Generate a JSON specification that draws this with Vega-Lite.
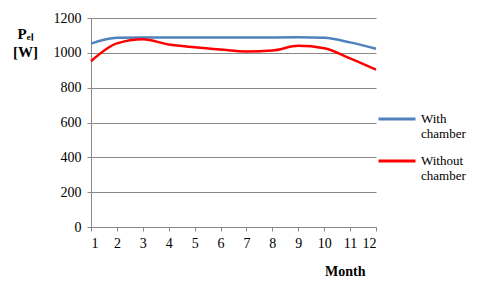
{
  "$schema": "https://vega.github.io/schema/vega-lite/v6.json",
  "width": 285,
  "height": 209,
  "autosize": {"type": "none"},
  "padding": {"left": 91, "top": 18, "right": 104, "bottom": 61},
  "background": "white",
  "config": {
    "view": {"stroke": null},
    "font": "Liberation Serif",
    "axis": {"gridColor": "#888888", "gridWidth": 1, "domainColor": "#888888", "tickColor": "#888888", "labelColor": "#000000", "titleColor": "#000000"},
    "legend": {"labelFont": "Liberation Serif"}
  },
  "data": {"values": [
    {"month": 1, "power": 1053, "series": "With chamber"},
    {"month": 2, "power": 1086, "series": "With chamber"},
    {"month": 3, "power": 1088, "series": "With chamber"},
    {"month": 4, "power": 1088, "series": "With chamber"},
    {"month": 5, "power": 1088, "series": "With chamber"},
    {"month": 6, "power": 1088, "series": "With chamber"},
    {"month": 7, "power": 1088, "series": "With chamber"},
    {"month": 8, "power": 1088, "series": "With chamber"},
    {"month": 9, "power": 1089, "series": "With chamber"},
    {"month": 10, "power": 1086, "series": "With chamber"},
    {"month": 11, "power": 1060, "series": "With chamber"},
    {"month": 12, "power": 1023, "series": "With chamber"},
    {"month": 1, "power": 952, "series": "Without chamber"},
    {"month": 2, "power": 1054, "series": "Without chamber"},
    {"month": 3, "power": 1078, "series": "Without chamber"},
    {"month": 4, "power": 1048, "series": "Without chamber"},
    {"month": 5, "power": 1032, "series": "Without chamber"},
    {"month": 6, "power": 1019, "series": "Without chamber"},
    {"month": 7, "power": 1008, "series": "Without chamber"},
    {"month": 8, "power": 1013, "series": "Without chamber"},
    {"month": 9, "power": 1040, "series": "Without chamber"},
    {"month": 10, "power": 1026, "series": "Without chamber"},
    {"month": 11, "power": 968, "series": "Without chamber"},
    {"month": 12, "power": 903, "series": "Without chamber"}
  ]},
  "mark": {"type": "line", "interpolate": "monotone", "strokeWidth": 2.5},
  "encoding": {
    "x": {"field": "month", "type": "quantitative", "scale": {"domain": [1, 12], "nice": false},
      "axis": {"values": [1,2,3,4,5,6,7,8,9,10,11,12], "grid": false, "tickSize": 4, "labelPadding": 5, "labelFont": "Liberation Serif", "labelFontSize": 14, "title": "Month", "titleFont": "Liberation Serif", "titleFontSize": 14, "titleFontWeight": "bold", "titleX": 274, "titleY": 44, "titleAlign": "right", "titleBaseline": "middle", "titleAnchor": null}},
    "y": {"field": "power", "type": "quantitative", "scale": {"domain": [0, 1200], "nice": false},
      "axis": {"values": [0,200,400,600,800,1000,1200], "format": "d", "tickSize": 4, "labelPadding": 6, "labelFont": "Liberation Serif", "labelFontSize": 14, "title": ["Pₑₗ", "[W]"], "titleFont": "Liberation Serif", "titleFontSize": 15, "titleFontWeight": "bold", "titleAngle": 0, "titleX": -66, "titleY": 15, "titleAlign": "center", "titleBaseline": "middle", "titleLineHeight": 18, "titleAnchor": null}},
    "color": {"field": "series", "type": "nominal",
      "scale": {"domain": ["With chamber", "Without chamber"], "range": ["#4F81BD", "#FF0000"]},
      "legend": {"title": null, "orient": "none", "legendX": 286, "legendY": 81, "symbolType": "stroke", "symbolSize": 1369, "symbolStrokeWidth": 3, "labelFont": "Liberation Serif", "labelFontSize": 13, "labelColor": "#000000", "labelLimit": 200, "labelExpr": "split(datum.label, ' ')", "labelLineHeight": 14, "rowPadding": -4, "labelOffset": 4}}
  }
}
